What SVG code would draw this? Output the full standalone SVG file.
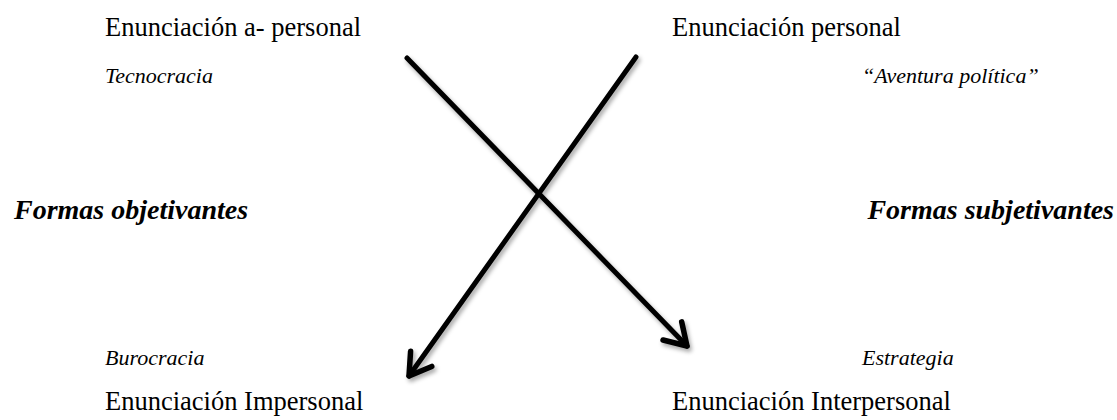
<svg xmlns="http://www.w3.org/2000/svg" width="1117" height="420" viewBox="0 0 1117 420">
  <style>
    .t { font-family: "Liberation Serif", "Times New Roman", serif; fill: #000; }
    .reg { font-size: 26.5px; }
    .it { font-size: 22px; font-style: italic; }
    .bi { font-size: 28px; font-style: italic; font-weight: bold; }
    .conn { stroke: #000; stroke-width: 5; fill: none; stroke-linecap: round; }
  </style>
  <defs>
    <filter id="shadow" x="-20%" y="-20%" width="140%" height="140%">
      <feDropShadow dx="2" dy="3" stdDeviation="2" flood-color="#000" flood-opacity="0.35"/>
    </filter>
    <marker id="arrow" markerUnits="userSpaceOnUse" markerWidth="32" markerHeight="32" viewBox="0 0 32 32" refX="27" refY="16" orient="auto">
      <path d="M6,3 L27,16 L6,29" fill="none" stroke="#000" stroke-width="5.5" stroke-linecap="round" stroke-linejoin="round"/>
    </marker>
  </defs>
  <rect width="1117" height="420" fill="#fff"/>

  <g id="connectors" filter="url(#shadow)">
    <line class="conn" x1="407" y1="58" x2="687" y2="346" marker-end="url(#arrow)"/>
    <line class="conn" x1="636" y1="57" x2="409" y2="376" marker-end="url(#arrow)"/>
  </g>

  <g id="apersonal">
    <text class="t reg" x="105" y="36">Enunciación a- personal</text>
    <text class="t it" x="105" y="83">Tecnocracia</text>
  </g>
  <g id="personal">
    <text class="t reg" x="672" y="36">Enunciación personal</text>
    <text class="t it" x="862" y="83">“Aventura política”</text>
  </g>
  <g id="objetivantes">
    <text class="t bi" x="14" y="219">Formas objetivantes</text>
  </g>
  <g id="subjetivantes">
    <text class="t bi" x="1114" y="219" text-anchor="end">Formas subjetivantes</text>
  </g>
  <g id="impersonal">
    <text class="t it" x="105" y="365">Burocracia</text>
    <text class="t reg" x="105" y="410">Enunciación Impersonal</text>
  </g>
  <g id="interpersonal">
    <text class="t it" x="862" y="365">Estrategia</text>
    <text class="t reg" x="672" y="410">Enunciación Interpersonal</text>
  </g>
</svg>
